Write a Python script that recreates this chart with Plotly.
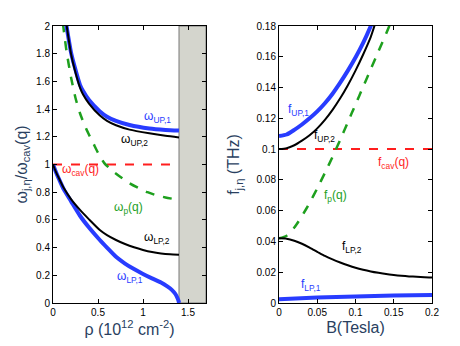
import plotly.graph_objects as go

# left panel: frequency ratio vs density
rho_up1 = [0.145, 0.2, 0.243, 0.3, 0.334, 0.4, 0.518, 0.6, 0.70, 0.85, 1.07, 1.25, 1.40]
w_up1 = [2.02, 1.81, 1.70, 1.575, 1.53, 1.465, 1.385, 1.345, 1.315, 1.285, 1.26, 1.25, 1.245]
rho_up2 = [0.15, 0.2, 0.243, 0.3, 0.334, 0.4, 0.518, 0.6, 0.70, 0.85, 1.07, 1.25, 1.40]
w_up2 = [2.01, 1.80, 1.68, 1.555, 1.505, 1.44, 1.355, 1.315, 1.283, 1.252, 1.225, 1.207, 1.195]
rho_p = [0.11, 0.15, 0.2, 0.25, 0.3, 0.35, 0.4, 0.45, 0.5, 0.57, 0.65, 0.75, 0.85, 0.95, 1.05, 1.15, 1.25, 1.4]
w_p = [2.02, 1.82, 1.63, 1.48, 1.37, 1.285, 1.215, 1.15, 1.085, 1.01, 0.96, 0.91, 0.865, 0.83, 0.80, 0.778, 0.762, 0.744]
rho_lp2 = [0, 0.03, 0.07, 0.12, 0.2, 0.3, 0.4, 0.52, 0.6, 0.7, 0.8, 0.9, 1.0, 1.1, 1.2, 1.3, 1.4]
w_lp2 = [1.0, 0.95, 0.895, 0.83, 0.75, 0.672, 0.604, 0.527, 0.49, 0.455, 0.426, 0.402, 0.383, 0.368, 0.358, 0.352, 0.349]
rho_lp1 = [0, 0.03, 0.07, 0.12, 0.2, 0.3, 0.4, 0.52, 0.6, 0.7, 0.8, 0.9, 1.0, 1.1, 1.2, 1.27, 1.32, 1.36, 1.38, 1.395, 1.4]
w_lp1 = [1.0, 0.95, 0.89, 0.82, 0.735, 0.63, 0.545, 0.455, 0.40, 0.334, 0.285, 0.245, 0.21, 0.178, 0.148, 0.12, 0.095, 0.065, 0.04, 0.015, 0.0]
rho_cav = [0, 1.4]
w_cav = [1, 1]

# right panel: frequency vs magnetic field
B_up1 = [0, 0.01, 0.02, 0.03, 0.04, 0.05, 0.06, 0.07, 0.08, 0.09, 0.1, 0.11, 0.12, 0.122]
f_up1 = [0.1085, 0.1095, 0.1125, 0.116, 0.120, 0.1245, 0.1298, 0.136, 0.1432, 0.151, 0.1595, 0.169, 0.180, 0.1825]
B_up2 = [0, 0.01, 0.02, 0.03, 0.04, 0.05, 0.06, 0.07, 0.08, 0.09, 0.1, 0.11, 0.12, 0.126]
f_up2 = [0.1, 0.1006, 0.1025, 0.1055, 0.109, 0.1135, 0.119, 0.1255, 0.133, 0.1415, 0.151, 0.1615, 0.173, 0.182]
B_p = [0, 0.01, 0.02, 0.03, 0.04, 0.05, 0.06, 0.07, 0.08, 0.09, 0.1, 0.11, 0.12, 0.13, 0.14, 0.145]
f_p = [0.042, 0.0437, 0.049, 0.0565, 0.065, 0.0745, 0.0845, 0.095, 0.106, 0.1175, 0.129, 0.1405, 0.152, 0.1635, 0.175, 0.181]
B_lp2 = [0, 0.01, 0.02, 0.03, 0.04, 0.05, 0.06, 0.07, 0.08, 0.09, 0.1, 0.11, 0.12, 0.13, 0.14, 0.15, 0.16, 0.17, 0.18, 0.19, 0.2]
f_lp2 = [0.042, 0.0418, 0.0405, 0.0385, 0.036, 0.0333, 0.0306, 0.0283, 0.0263, 0.0245, 0.0229, 0.0216, 0.0205,
         0.0196, 0.0188, 0.0182, 0.0177, 0.0173, 0.0170, 0.0167, 0.0165]
B_lp1 = [0, 0.05, 0.1, 0.15, 0.2]
f_lp1 = [0.0024, 0.0035, 0.0042, 0.0048, 0.0052]
B_cav = [0, 0.2]
f_cav = [0.1, 0.1]

BLUE = 'rgb(40,60,255)'
GREEN = 'rgb(30,160,30)'
RED = 'rgb(255,30,30)'
FONT = 'Liberation Sans, Arial, sans-serif'

fig = go.Figure()

def add(x, y, color, width, dash, xa, ya):
    fig.add_trace(go.Scatter(x=x, y=y, mode='lines', line=dict(color=color, width=width, dash=dash, shape='spline', smoothing=0.6),
                             xaxis=xa, yaxis=ya, showlegend=False, hoverinfo='skip', cliponaxis=True))

add(rho_cav, w_cav, RED, 2, 'dash', 'x', 'y')
add(rho_p, w_p, GREEN, 2.5, 'dash', 'x', 'y')
add(rho_up1, w_up1, BLUE, 4, 'solid', 'x', 'y')
add(rho_up2, w_up2, 'black', 2, 'solid', 'x', 'y')
add(rho_lp1, w_lp1, BLUE, 4, 'solid', 'x', 'y')
add(rho_lp2, w_lp2, 'black', 2, 'solid', 'x', 'y')

add(B_cav, f_cav, RED, 2, 'dash', 'x2', 'y2')
add(B_p, f_p, GREEN, 2.5, 'dash', 'x2', 'y2')
add(B_up1, f_up1, BLUE, 4, 'solid', 'x2', 'y2')
add(B_up2, f_up2, 'black', 2, 'solid', 'x2', 'y2')
add(B_lp1, f_lp1, BLUE, 4, 'solid', 'x2', 'y2')
add(B_lp2, f_lp2, 'black', 2, 'solid', 'x2', 'y2')

# grey forbidden region
fig.add_shape(type='rect', xref='x', yref='y', x0=1.4, x1=1.7, y0=0, y1=2,
              fillcolor='rgb(212,213,205)', line=dict(color='rgb(120,120,120)', width=1), layer='below')

labels = [
    ('x', 'y', 1.16, 1.34, 'ω<sub>UP,1</sub>', BLUE),
    ('x', 'y', 0.90, 1.18, 'ω<sub>UP,2</sub>', 'black'),
    ('x', 'y', 0.31, 0.96, 'ω<sub>cav</sub>(q)', RED),
    ('x', 'y', 0.84, 0.686, 'ω<sub>p</sub>(q)', GREEN),
    ('x', 'y', 1.15, 0.47, 'ω<sub>LP,2</sub>', 'black'),
    ('x', 'y', 0.85, 0.19, 'ω<sub>LP,1</sub>', BLUE),
    ('x2', 'y2', 0.026, 0.1254, 'f<sub>UP,1</sub>', BLUE),
    ('x2', 'y2', 0.059, 0.1085, 'f<sub>UP,2</sub>', 'black'),
    ('x2', 'y2', 0.150, 0.091, 'f<sub>cav</sub>(q)', RED),
    ('x2', 'y2', 0.0745, 0.0695, 'f<sub>p</sub>(q)', GREEN),
    ('x2', 'y2', 0.095, 0.0364, 'f<sub>LP,2</sub>', 'black'),
    ('x2', 'y2', 0.042, 0.0117, 'f<sub>LP,1</sub>', BLUE),
]
for xr, yr, x, y, t, c in labels:
    fig.add_annotation(x=x, y=y, xref=xr, yref=yr, text=t, showarrow=False,
                       font=dict(size=12, color=c, family=FONT))

ax = dict(showline=True, mirror='ticks', linecolor='black', linewidth=1, ticks='inside', ticklen=4,
          tickcolor='black', showgrid=False, zeroline=False, automargin=False,
          tickfont=dict(size=10, family=FONT, color='black'))

fig.update_layout(
    width=460, height=346,
    margin=dict(l=45, r=36, t=18, b=51),
    plot_bgcolor='white', paper_bgcolor='white',
    xaxis=dict(ax, domain=[0, 0.4037], range=[0, 1.7], tickvals=[0, 0.5, 1, 1.5], ticktext=['0', '0.5', '1', '1.5'],
               title=dict(text='ρ (10<sup>12</sup> cm<sup>-2</sup>)', font=dict(size=16, family=FONT), standoff=4), anchor='y'),
    yaxis=dict(ax, domain=[0, 1], range=[0, 2], tickvals=[0, 0.2, 0.4, 0.6, 0.8, 1, 1.2, 1.4, 1.6, 1.8, 2],
               ticktext=['0', '0.2', '0.4', '0.6', '0.8', '1', '1.2', '1.4', '1.6', '1.8', '2'],
               title=dict(text='ω<sub>j,η</sub>/ω<sub>cav</sub>(q)', font=dict(size=16, family=FONT), standoff=4), anchor='x'),
    xaxis2=dict(ax, domain=[0.5963, 1.0], range=[0, 0.2], tickvals=[0, 0.05, 0.1, 0.15, 0.2],
                ticktext=['0', '0.05', '0.1', '0.15', '0.2'],
                title=dict(text='B(Tesla)', font=dict(size=16, family=FONT), standoff=4), anchor='y2'),
    yaxis2=dict(ax, domain=[0, 1], range=[0, 0.18],
                tickvals=[0, 0.02, 0.04, 0.06, 0.08, 0.1, 0.12, 0.14, 0.16, 0.18],
                ticktext=['0', '0.02', '0.04', '0.06', '0.08', '0.1', '0.12', '0.14', '0.16', '0.18'],
                title=dict(text='f<sub>j,η</sub> (THz)', font=dict(size=16, family=FONT), standoff=12), anchor='x2'),
)

fig.write_html("out.html")
